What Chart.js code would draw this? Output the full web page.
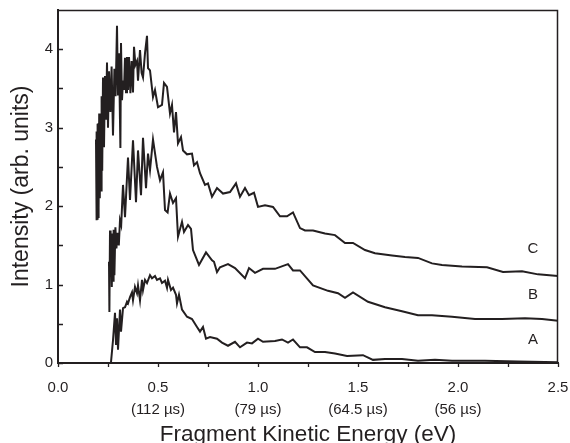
<!DOCTYPE html>
<html>
<head>
<meta charset="utf-8">
<script src="https://cdn.jsdelivr.net/npm/chart.js@4.4.0/dist/chart.umd.min.js"></script>
<style>
  html, body { margin: 0; padding: 0; background: #fff; }
</style>
</head>
<body>
<canvas id="myChart" width="570" height="443"></canvas>
<script>
// fragment kinetic energy (eV) vs. intensity, one [energy, intensity] pair per point
const seriesA = [
  [0.265,0.01],[0.275,0.29],[0.285,0.64],[0.290,0.23],[0.295,0.57],[0.300,0.17],[0.310,0.68],
  [0.315,0.40],[0.325,0.70],[0.335,0.71],[0.345,0.78],[0.350,0.76],[0.360,0.84],[0.370,0.90],
  [0.375,0.80],[0.385,0.97],[0.395,0.89],[0.400,0.99],[0.410,0.80],[0.420,1.06],[0.425,0.93],
  [0.435,1.06],[0.445,1.02],[0.460,1.12],[0.470,1.08],[0.485,1.11],[0.495,1.06],[0.510,1.08],
  [0.520,1.02],[0.535,1.05],[0.545,0.96],[0.550,1.06],[0.565,0.93],[0.575,0.96],[0.590,0.87],
  [0.595,0.76],[0.605,0.87],[0.620,0.68],[0.645,0.59],[0.670,0.56],[0.695,0.46],[0.710,0.40],
  [0.725,0.46],[0.740,0.31],[0.760,0.33],[0.795,0.31],[0.820,0.26],[0.850,0.22],[0.885,0.27],
  [0.910,0.20],[0.945,0.26],[0.970,0.25],[1.000,0.31],[1.025,0.27],[1.085,0.28],[1.120,0.30],
  [1.150,0.26],[1.175,0.30],[1.210,0.20],[1.245,0.20],[1.285,0.14],[1.335,0.14],[1.385,0.12],
  [1.445,0.09],[1.525,0.10],[1.575,0.04],[1.635,0.05],[1.720,0.05],[1.800,0.03],[1.885,0.04],
  [1.970,0.03],[2.135,0.03],[2.300,0.02],[2.500,0.01]
];
const seriesB = [
  [0.255,1.29],[0.257,0.65],[0.260,1.69],[0.263,1.10],[0.266,1.65],[0.269,0.97],[0.272,1.60],
  [0.275,1.05],[0.278,1.70],[0.282,1.12],[0.287,1.73],[0.292,1.46],[0.298,1.66],[0.304,1.50],
  [0.310,1.82],[0.316,1.76],[0.325,2.27],[0.335,1.86],[0.350,2.62],[0.360,2.08],[0.375,2.84],
  [0.390,2.05],[0.400,2.71],[0.415,2.14],[0.425,2.87],[0.440,2.23],[0.450,2.67],[0.460,2.46],
  [0.475,2.85],[0.495,2.50],[0.510,2.33],[0.525,2.43],[0.535,1.95],[0.548,1.92],[0.560,2.16],
  [0.575,2.04],[0.590,2.10],[0.600,1.61],[0.620,1.80],[0.630,1.67],[0.650,1.76],[0.665,1.71],
  [0.675,1.44],[0.705,1.25],[0.740,1.41],[0.770,1.31],[0.780,1.29],[0.795,1.16],[0.810,1.22],
  [0.850,1.26],[0.885,1.21],[0.935,1.08],[0.955,1.21],[0.985,1.15],[1.025,1.20],[1.085,1.20],
  [1.150,1.26],[1.175,1.18],[1.210,1.18],[1.275,0.99],[1.350,0.92],[1.400,0.89],[1.435,0.83],
  [1.475,0.90],[1.550,0.78],[1.635,0.71],[1.720,0.66],[1.800,0.61],[1.870,0.61],[1.970,0.59],
  [2.085,0.56],[2.220,0.56],[2.335,0.57],[2.420,0.56],[2.500,0.54]
];
const seriesC = [
  [0.190,2.85],[0.192,1.82],[0.194,2.95],[0.196,1.84],[0.198,3.05],[0.200,1.86],[0.202,3.06],
  [0.204,1.95],[0.206,3.18],[0.209,2.10],[0.212,3.10],[0.215,2.20],[0.218,3.40],[0.221,2.45],
  [0.225,3.64],[0.230,2.75],[0.235,3.66],[0.240,3.10],[0.245,3.83],[0.250,3.00],[0.255,3.72],
  [0.262,3.20],[0.268,3.78],[0.275,2.90],[0.282,3.75],[0.288,3.40],[0.295,4.30],[0.300,3.41],
  [0.305,3.95],[0.312,2.74],[0.315,4.08],[0.320,3.35],[0.325,3.60],[0.330,3.48],[0.335,3.89],
  [0.340,3.45],[0.345,3.90],[0.350,3.48],[0.355,3.90],[0.362,3.44],[0.368,3.85],[0.375,3.45],
  [0.380,4.03],[0.387,3.80],[0.395,3.85],[0.400,3.60],[0.410,3.99],[0.418,3.70],[0.425,3.64],
  [0.435,3.95],[0.445,4.17],[0.450,3.76],[0.460,3.73],[0.475,3.39],[0.485,3.48],[0.500,3.26],
  [0.520,3.29],[0.530,3.57],[0.545,3.52],[0.560,3.18],[0.570,3.29],[0.580,2.94],[0.590,3.20],
  [0.600,2.80],[0.615,2.88],[0.625,2.71],[0.645,2.66],[0.670,2.67],[0.680,2.52],[0.695,2.56],
  [0.710,2.42],[0.735,2.27],[0.750,2.29],[0.770,2.12],[0.795,2.23],[0.825,2.16],[0.860,2.18],
  [0.890,2.29],[0.910,2.12],[0.935,2.23],[0.955,2.14],[0.980,2.17],[1.000,1.99],[1.035,2.01],
  [1.075,1.99],[1.110,1.87],[1.145,1.87],[1.175,1.92],[1.210,1.72],[1.235,1.69],[1.275,1.69],
  [1.335,1.65],[1.385,1.63],[1.435,1.53],[1.475,1.53],[1.535,1.44],[1.585,1.40],[1.670,1.37],
  [1.735,1.35],[1.800,1.34],[1.870,1.27],[1.920,1.25],[2.020,1.23],[2.145,1.22],[2.225,1.16],
  [2.320,1.17],[2.400,1.13],[2.500,1.11]
];

// x tick labels, with the matching flight time underneath
const xTickValues = [0, 0.5, 1.0, 1.5, 2.0, 2.5];
const xTickLabels = ['0.0', '0.5', '1.0', '1.5', '2.0', '2.5'];
const flightTimes = ['', '(112 µs)', '(79 µs)', '(64.5 µs)', '(56 µs)', ''];

// curve names written at the right-hand end
const curveNames = ['A', 'B', 'C'];
const curveNameX = 2.375;
const curveNameY = [0.29, 0.87, 1.46];

const ink = '#231f20';
const fontFamily = '"Liberation Sans", Arial, Helvetica, sans-serif';

const toPoints = s => s.map(p => ({x: p[0], y: p[1]}));

const boxAndTicks = {
  id: 'boxAndTicks',
  afterDraw(chart) {
    const {ctx, chartArea: a, scales: {x, y}} = chart;
    ctx.save();
    ctx.strokeStyle = ink;

    // top and right sides of the frame
    ctx.lineWidth = 1.5;
    ctx.beginPath();
    ctx.moveTo(a.left, a.top + 0.5);
    ctx.lineTo(a.right - 0.5, a.top + 0.5);
    ctx.lineTo(a.right - 0.5, a.bottom);
    ctx.stroke();

    // tick marks
    ctx.lineWidth = 1.3;
    ctx.beginPath();
    x.ticks.forEach(t => {
      const px = Math.round(x.getPixelForValue(t.value)) + 0.5;
      ctx.moveTo(px, a.bottom);
      ctx.lineTo(px, a.bottom + 4);
    });
    y.ticks.forEach(t => {
      if (t.value >= 4.5) return;
      const py = Math.round(y.getPixelForValue(t.value)) + 0.5;
      ctx.moveTo(a.left, py);
      ctx.lineTo(a.left + 5, py);
    });
    ctx.stroke();

    // A / B / C
    ctx.fillStyle = ink;
    ctx.font = '15px ' + fontFamily;
    ctx.textAlign = 'center';
    ctx.textBaseline = 'middle';
    curveNames.forEach((n, i) => {
      ctx.fillText(n, x.getPixelForValue(curveNameX), y.getPixelForValue(curveNameY[i]));
    });
    ctx.restore();
  }
};

const lineStyle = {
  borderColor: ink,
  borderWidth: 2,
  pointRadius: 0,
  tension: 0,
  fill: false
};

const noGrid = { display: false, drawTicks: false, tickLength: 0 };

const ctx = document.getElementById('myChart').getContext('2d');
const chart = new Chart(ctx, {
  type: 'line',
  data: {
    datasets: [
      Object.assign({label: 'A', data: toPoints(seriesA)}, lineStyle),
      Object.assign({label: 'B', data: toPoints(seriesB)}, lineStyle),
      Object.assign({label: 'C', data: toPoints(seriesC)}, lineStyle)
    ]
  },
  options: {
    responsive: false,
    animation: false,
    layout: { padding: { top: 10, right: 12, left: 0, bottom: 0 } },
    plugins: { legend: { display: false }, tooltip: { enabled: false } },
    scales: {
      x: {
        type: 'linear',
        min: 0,
        max: 2.5,
        grid: noGrid,
        border: { display: true, color: ink, width: 2 },
        ticks: {
          stepSize: 0.25,
          autoSkip: false,
          maxRotation: 0,
          padding: 14,
          color: ink,
          font: { family: fontFamily, size: 15, lineHeight: 1.45 },
          callback: v => {
            const i = xTickValues.indexOf(v);
            if (i < 0) return '';
            return flightTimes[i] ? [xTickLabels[i], flightTimes[i]] : xTickLabels[i];
          }
        },
        title: {
          display: true,
          text: 'Fragment Kinetic Energy (eV)',
          color: ink,
          padding: { top: 0, bottom: -3 },
          font: { family: fontFamily, size: 22.5, lineHeight: 1 }
        },
        // fixed height; the end labels may hang into the page margin
        afterFit: s => { s.height = 80; s.paddingLeft = 0; s.paddingRight = 0; }
      },
      y: {
        min: 0,
        max: 4.5,
        grid: noGrid,
        border: { display: true, color: ink, width: 2 },
        ticks: {
          stepSize: 0.5,
          autoSkip: false,
          padding: 5,
          color: ink,
          font: { family: fontFamily, size: 15 },
          callback: v => (Number.isInteger(v) && v <= 4 ? String(v) : '')
        },
        title: {
          display: true,
          text: 'Intensity (arb. units)',
          color: ink,
          padding: { top: 10, bottom: 0 },
          font: { family: fontFamily, size: 23, lineHeight: 1 }
        },
        afterFit: s => { s.width = 58; s.paddingTop = 0; s.paddingBottom = 0; }
      }
    }
  },
  plugins: [boxAndTicks]
});
</script>
</body>
</html>
